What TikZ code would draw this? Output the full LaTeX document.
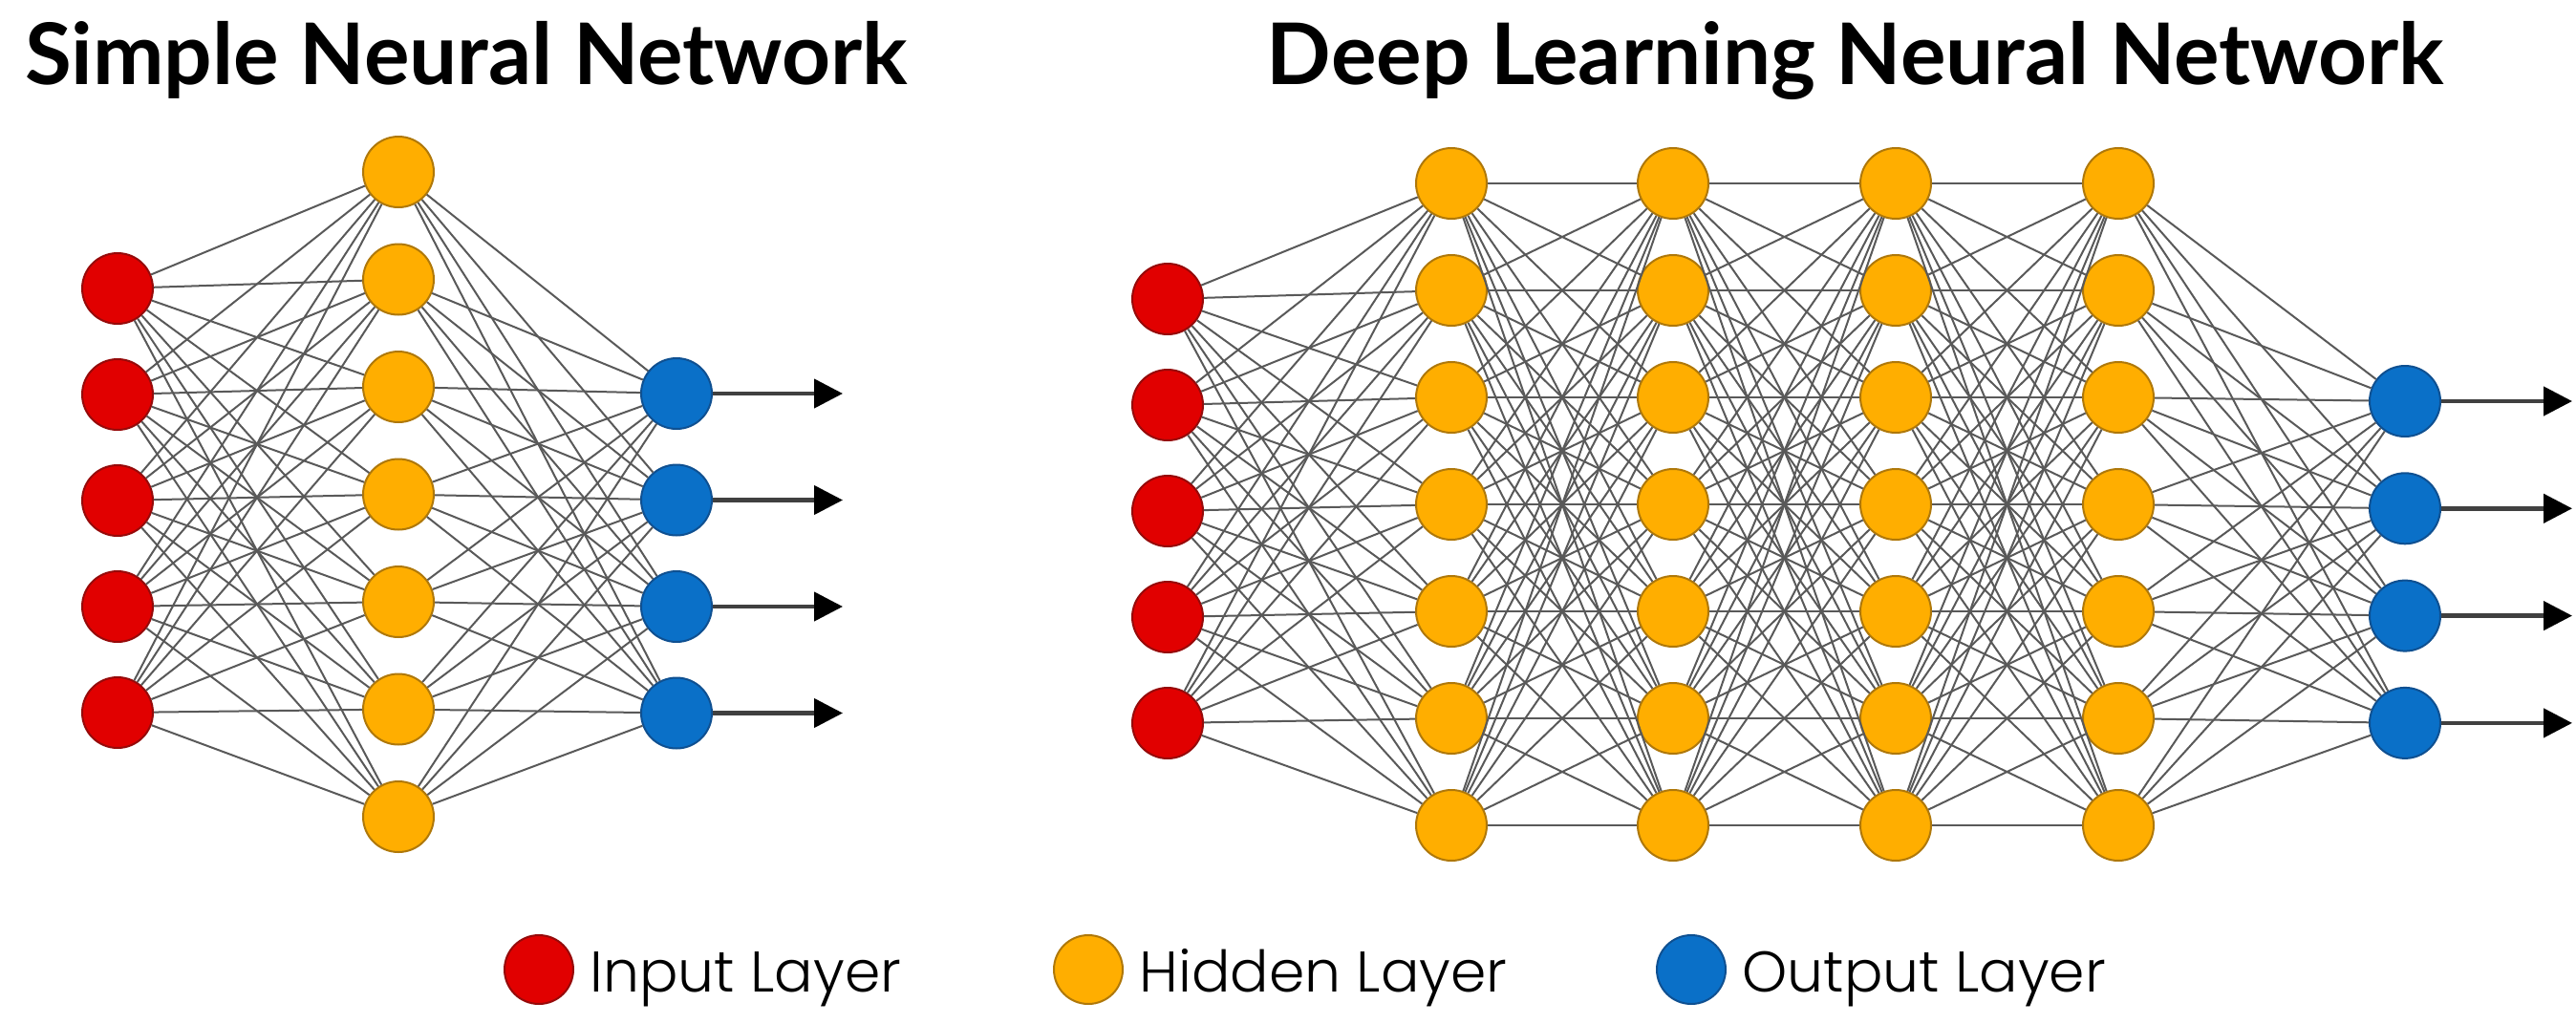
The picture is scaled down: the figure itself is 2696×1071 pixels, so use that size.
\documentclass[tikz,border=0pt]{standalone}
\usepackage{fontspec}
\setmainfont{Lato}
\newfontfamily\legendfont{Poppins Light}
\usetikzlibrary{arrows.meta}

\definecolor{inred}{RGB}{225,0,0}
\definecolor{inredline}{RGB}{150,10,10}
\definecolor{hidorange}{RGB}{255,174,0}
\definecolor{hidline}{RGB}{175,120,10}
\definecolor{outblue}{RGB}{10,112,200}
\definecolor{outblueline}{RGB}{15,80,145}

\tikzset{
  neuron/.style={circle, minimum size=74pt, inner sep=0pt, line width=2pt},
  inneuron/.style={neuron, fill=inred, draw=inredline},
  hidneuron/.style={neuron, fill=hidorange, draw=hidline},
  outneuron/.style={neuron, fill=outblue, draw=outblueline},
  link/.style={draw=black!65, line width=2pt},
  outarrow/.style={draw=black!75, line width=4.5pt, -{Triangle[length=30pt,width=30pt,color=black]}},
  titletext/.style={anchor=base, font=\fontsize{89}{104}\selectfont\bfseries},
  legendtext/.style={anchor=base west, font=\fontsize{60}{70}\selectfont\legendfont}
}

\begin{document}
\begin{tikzpicture}[x=1pt, y=-1pt]
\useasboundingbox (0,0) rectangle (2696,1071);
% Titres
\node[titletext] (stitle) at (488,88) {Simple Neural Network};
\node[titletext] (dtitle) at (1942,88) {Deep Learning Neural Network};

% Simple network
\foreach \i in {1,...,5} \node[inneuron] (sin-\i) at (123,{302+111*(\i-1)}) {};
\foreach \i in {1,...,7} \node[hidneuron] (sh-\i) at (417,{180+112.5*(\i-1)}) {};
\foreach \i in {1,...,4} {
  \node[outneuron] (sout-\i) at (708,{412+111.5*(\i-1)}) {};
  \coordinate (send-\i) at (882,{412+111.5*(\i-1)});
}
\foreach \i in {1,...,5} \foreach \j in {1,...,7} \draw[link] (sin-\i) -- (sh-\j);
\foreach \i in {1,...,7} \foreach \j in {1,...,4} \draw[link] (sh-\i) -- (sout-\j);
\foreach \i in {1,...,4} \draw[outarrow] (sout-\i) -- (send-\i);

% Deep network
\foreach \i in {1,...,5} \node[inneuron] (din-\i) at (1222,{313+111*(\i-1)}) {};
\foreach \l/\x in {1/1519,2/1751,3/1984,4/2217}
  \foreach \i in {1,...,7} \node[hidneuron] (dh\l-\i) at (\x,{192+112*(\i-1)}) {};
\foreach \i in {1,...,4} {
  \node[outneuron] (dout-\i) at (2517,{420+112.3*(\i-1)}) {};
  \coordinate (dend-\i) at (2692,{420+112.3*(\i-1)});
}
\foreach \i in {1,...,5} \foreach \j in {1,...,7} \draw[link] (din-\i) -- (dh1-\j);
\foreach \l/\m in {1/2,2/3,3/4}
  \foreach \i in {1,...,7} \foreach \j in {1,...,7} \draw[link] (dh\l-\i) -- (dh\m-\j);
\foreach \i in {1,...,7} \foreach \j in {1,...,4} \draw[link] (dh4-\i) -- (dout-\j);
\foreach \i in {1,...,4} \draw[outarrow] (dout-\i) -- (dend-\i);

% Legende
\foreach \n/\x/\s/\t in {in/564/inneuron/Input Layer,hid/1139/hidneuron/Hidden Layer,out/1770/outneuron/Output Layer} {
  \node[\s, minimum size=72pt] (leg-\n) at (\x,1015) {};
  \node[legendtext] (leg-\n-text) at (\x+50,1038) {\t};
}
\end{tikzpicture}
\end{document}
